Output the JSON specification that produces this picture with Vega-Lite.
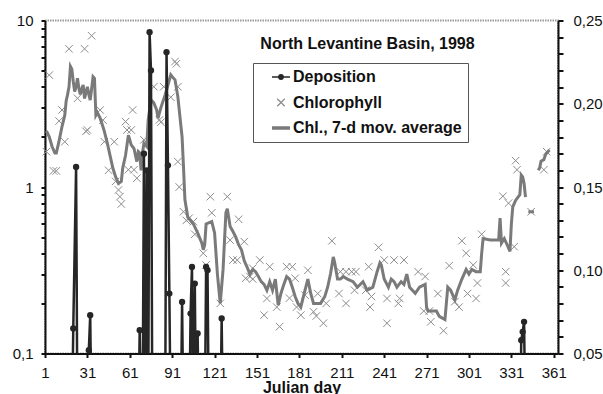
{
 "$schema": "https://vega.github.io/schema/vega-lite/v6.json",
 "width": 513, "height": 333,
 "autosize": {"type": "none"},
 "padding": {"left": 45, "top": 20.5, "right": 45, "bottom": 40.5},
 "background": "white",
 "config": {
  "font": "Liberation Sans",
  "view": {"stroke": "#9a9a9a", "strokeWidth": 2, "strokeDash": [1.5, 1]},
  "axis": {"domainColor": "#111111", "domainWidth": 2, "tickColor": "#111111", "tickWidth": 2, "labelFont": "Liberation Sans", "labelFontSize": 15, "labelColor": "#111111", "grid": false, "labelOverlap": false, "labelFlush": false},
  "axisRight": {"labelOverlap": false},
  "axisLeft": {"labelOverlap": false},
  "axisY": {"labelOverlap": false}
 },
 "title": {"text": "North Levantine Basin, 1998", "font": "Liberation Sans", "fontSize": 16, "fontWeight": "bold", "color": "#111111", "anchor": "middle", "frame": "group", "baseline": "alphabetic", "offset": -51, "dx": 66},
 "datasets": {
  "chl": [
   {"day":2,"v":1.63},{"day":4,"v":4.7},{"day":7,"v":1.25},{"day":9,"v":1.25},{"day":11,"v":2.49},{"day":13,"v":2.9},{"day":15,"v":1.87},{"day":18,"v":6.76},{"day":24,"v":3.41},{"day":29,"v":6.76},{"day":30,"v":2.16},{"day":31,"v":2.2},{"day":34,"v":8.1},{"day":40,"v":2.9},{"day":42,"v":2.52},{"day":43,"v":1.87},{"day":46,"v":1.26},{"day":50,"v":1.87},{"day":51,"v":1.08},{"day":53,"v":0.96},{"day":54,"v":0.875},{"day":55,"v":0.79},{"day":58,"v":2.47},{"day":59,"v":2.2},{"day":60,"v":1.27},{"day":62,"v":2.2},{"day":63,"v":2.9},{"day":64,"v":1.27},{"day":66,"v":1.13},{"day":71,"v":1.92},
   {"day":78,"v":4.0},{"day":82,"v":2.53},{"day":83,"v":2.45},{"day":85,"v":4.0},{"day":90,"v":3.46},{"day":93,"v":5.67},{"day":94,"v":5.5},{"day":95,"v":4.0},{"day":95,"v":1.42},{"day":96,"v":1.0},{"day":99,"v":0.71},{"day":101,"v":0.63},{"day":103,"v":0.65},{"day":106,"v":0.62},{"day":107,"v":0.52},{"day":113,"v":0.4},{"day":115,"v":0.34},{"day":118,"v":0.875},{"day":119,"v":0.7},{"day":125,"v":0.2},{"day":130,"v":0.875},{"day":132,"v":0.48},{"day":134,"v":0.364},{"day":137,"v":0.364},{"day":138,"v":0.64},{"day":142,"v":0.47},{"day":143,"v":0.283},{"day":146,"v":0.29},{"day":148,"v":0.28},{"day":148,"v":0.325},
   {"day":153,"v":0.364},{"day":156,"v":0.17},{"day":158,"v":0.214},{"day":160,"v":0.332},{"day":165,"v":0.19},{"day":167,"v":0.145},{"day":172,"v":0.332},{"day":174,"v":0.215},{"day":176,"v":0.332},{"day":178,"v":0.283},{"day":179,"v":0.19},{"day":182,"v":0.17},{"day":185,"v":0.224},{"day":187,"v":0.316},{"day":191,"v":0.178},{"day":193,"v":0.168},{"day":194,"v":0.229},{"day":198,"v":0.152},{"day":200,"v":0.2},{"day":204,"v":0.475},{"day":209,"v":0.229},{"day":210,"v":0.31},{"day":214,"v":0.2},{"day":214,"v":0.31},{"day":218,"v":0.31},{"day":220,"v":0.24},{"day":221,"v":0.31},{"day":228,"v":0.24},{"day":230,"v":0.332},{"day":231,"v":0.19},{"day":232,"v":0.22},{"day":237,"v":0.434},{"day":241,"v":0.364},{"day":243,"v":0.214},{"day":243,"v":0.152},{"day":248,"v":0.364},{"day":251,"v":0.2},{"day":252,"v":0.214},{"day":255,"v":0.364},
   {"day":265,"v":0.31},{"day":269,"v":0.18},{"day":270,"v":0.29},{"day":273,"v":0.18},{"day":274,"v":0.155},{"day":279,"v":0.229},{"day":283,"v":0.137},{"day":287,"v":0.337},{"day":291,"v":0.205},{"day":294,"v":0.19},{"day":296,"v":0.475},{"day":299,"v":0.4},{"day":300,"v":0.229},{"day":304,"v":0.34},{"day":306,"v":0.214},{"day":307,"v":0.265},{"day":310,"v":0.52},{"day":325,"v":0.88},{"day":327,"v":0.31},{"day":327,"v":0.265},{"day":329,"v":0.8},{"day":333,"v":0.438},{"day":334,"v":1.44},{"day":335,"v":1.27},{"day":345,"v":0.71},{"day":354,"v":1.27},{"day":356,"v":1.63}
  ],
  "ma": [
   {"day":2,"v":2.17,"seg":1},{"day":4,"v":2.0,"seg":1},{"day":6,"v":1.75,"seg":1},{"day":8,"v":1.6,"seg":1},{"day":9,"v":1.6,"seg":1},{"day":11,"v":1.9,"seg":1},{"day":13,"v":2.3,"seg":1},{"day":15,"v":2.7,"seg":1},{"day":16,"v":3.3,"seg":1},{"day":17,"v":3.6,"seg":1},{"day":18,"v":4.0,"seg":1},{"day":19,"v":5.3,"seg":1},{"day":20,"v":5.1,"seg":1},{"day":21,"v":4.3,"seg":1},{"day":22,"v":3.74,"seg":1},{"day":23,"v":4.0,"seg":1},{"day":24,"v":4.5,"seg":1},{"day":25,"v":3.9,"seg":1},{"day":26,"v":3.6,"seg":1},{"day":27,"v":3.9,"seg":1},{"day":28,"v":4.1,"seg":1},{"day":29,"v":3.4,"seg":1},{"day":30,"v":3.7,"seg":1},{"day":31,"v":4.0,"seg":1},{"day":32,"v":3.6,"seg":1},{"day":33,"v":3.33,"seg":1},{"day":34,"v":3.9,"seg":1},{"day":35,"v":4.6,"seg":1},{"day":36,"v":4.5,"seg":1},{"day":37,"v":2.7,"seg":1},{"day":38,"v":2.8,"seg":1},{"day":40,"v":2.59,"seg":1},{"day":42,"v":2.3,"seg":1},{"day":43,"v":2.16,"seg":1},{"day":45,"v":1.85,"seg":1},{"day":47,"v":1.55,"seg":1},{"day":49,"v":1.3,"seg":1},{"day":51,"v":1.15,"seg":1},{"day":53,"v":1.05,"seg":1},{"day":55,"v":1.08,"seg":1},{"day":56,"v":1.3,"seg":1},{"day":58,"v":1.55,"seg":1},{"day":60,"v":2.05,"seg":1},{"day":62,"v":1.79,"seg":1},{"day":64,"v":1.7,"seg":1},{"day":65,"v":1.55,"seg":1},{"day":66,"v":1.42,"seg":1},{"day":67,"v":1.63,"seg":1},{"day":68,"v":1.6,"seg":1},{"day":69,"v":1.26,"seg":1},{"day":70,"v":1.6,"seg":1},{"day":71,"v":1.83,"seg":1},{"day":73,"v":1.75,"seg":1},{"day":74,"v":2.53,"seg":1},{"day":76,"v":3.34,"seg":1},{"day":78,"v":3.2,"seg":1},{"day":80,"v":2.9,"seg":1},{"day":81,"v":2.59,"seg":1},{"day":83,"v":3.0,"seg":1},{"day":86,"v":3.57,"seg":1},{"day":88,"v":4.1,"seg":1},{"day":90,"v":4.72,"seg":1},{"day":91,"v":4.6,"seg":1},{"day":93,"v":4.4,"seg":1},{"day":95,"v":3.49,"seg":1},{"day":97,"v":2.4,"seg":1},{"day":98,"v":2.0,"seg":1},{"day":99,"v":1.32,"seg":1},{"day":100,"v":0.84,"seg":1},{"day":102,"v":0.66,"seg":1},{"day":106,"v":0.6,"seg":1},{"day":109,"v":0.53,"seg":1},{"day":112,"v":0.46,"seg":1},{"day":113,"v":0.42,"seg":1},{"day":114,"v":0.45,"seg":1},{"day":115,"v":0.6,"seg":1},{"day":119,"v":0.62,"seg":1},{"day":121,"v":0.53,"seg":1},{"day":123,"v":0.3,"seg":1},{"day":125,"v":0.2,"seg":1},{"day":127,"v":0.32,"seg":1},{"day":129,"v":0.7,"seg":1},{"day":130,"v":0.74,"seg":1},{"day":132,"v":0.58,"seg":1},{"day":134,"v":0.54,"seg":1},{"day":136,"v":0.5,"seg":1},{"day":138,"v":0.45,"seg":1},{"day":140,"v":0.42,"seg":1},{"day":142,"v":0.36,"seg":1},{"day":144,"v":0.33,"seg":1},{"day":146,"v":0.3,"seg":1},{"day":148,"v":0.32,"seg":1},{"day":150,"v":0.31,"seg":1},{"day":152,"v":0.29,"seg":1},{"day":154,"v":0.27,"seg":1},{"day":156,"v":0.26,"seg":1},{"day":158,"v":0.24,"seg":1},{"day":160,"v":0.27,"seg":1},{"day":162,"v":0.24,"seg":1},{"day":164,"v":0.28,"seg":1},{"day":166,"v":0.195,"seg":1},{"day":168,"v":0.23,"seg":1},{"day":170,"v":0.26,"seg":1},{"day":172,"v":0.29,"seg":1},{"day":174,"v":0.28,"seg":1},{"day":176,"v":0.25,"seg":1},{"day":178,"v":0.22,"seg":1},{"day":180,"v":0.2,"seg":1},{"day":182,"v":0.19,"seg":1},{"day":185,"v":0.24,"seg":1},{"day":187,"v":0.28,"seg":1},{"day":189,"v":0.23,"seg":1},{"day":191,"v":0.2,"seg":1},{"day":193,"v":0.2,"seg":1},{"day":196,"v":0.2,"seg":1},{"day":199,"v":0.22,"seg":1},{"day":201,"v":0.25,"seg":1},{"day":203,"v":0.3,"seg":1},{"day":205,"v":0.38,"seg":1},{"day":206,"v":0.35,"seg":1},{"day":208,"v":0.28,"seg":1},{"day":210,"v":0.28,"seg":1},{"day":212,"v":0.29,"seg":1},{"day":215,"v":0.28,"seg":1},{"day":219,"v":0.27,"seg":1},{"day":222,"v":0.25,"seg":1},{"day":226,"v":0.27,"seg":1},{"day":229,"v":0.24,"seg":1},{"day":233,"v":0.25,"seg":1},{"day":236,"v":0.31,"seg":1},{"day":238,"v":0.35,"seg":1},{"day":239,"v":0.34,"seg":1},{"day":241,"v":0.28,"seg":1},{"day":244,"v":0.25,"seg":1},{"day":246,"v":0.28,"seg":1},{"day":248,"v":0.27,"seg":1},{"day":250,"v":0.25,"seg":1},{"day":253,"v":0.27,"seg":1},{"day":255,"v":0.26,"seg":1},{"day":257,"v":0.3,"seg":1},{"day":259,"v":0.25,"seg":1},{"day":263,"v":0.23,"seg":1},{"day":266,"v":0.25,"seg":1},{"day":270,"v":0.26,"seg":1},{"day":271,"v":0.19,"seg":1},{"day":272,"v":0.18,"seg":1},{"day":275,"v":0.18,"seg":1},{"day":278,"v":0.18,"seg":1},{"day":280,"v":0.167,"seg":1},{"day":284,"v":0.16,"seg":1},{"day":285,"v":0.2,"seg":1},{"day":286,"v":0.25,"seg":1},{"day":288,"v":0.24,"seg":1},{"day":291,"v":0.21,"seg":1},{"day":293,"v":0.24,"seg":1},{"day":296,"v":0.28,"seg":1},{"day":299,"v":0.32,"seg":1},{"day":301,"v":0.3,"seg":1},{"day":303,"v":0.32,"seg":1},{"day":306,"v":0.31,"seg":1},{"day":309,"v":0.31,"seg":1},{"day":310,"v":0.4,"seg":1},{"day":311,"v":0.49,"seg":1},{"day":316,"v":0.48,"seg":1},{"day":322,"v":0.48,"seg":1},{"day":323,"v":0.65,"seg":1},{"day":324,"v":0.46,"seg":1},{"day":326,"v":0.49,"seg":1},{"day":328,"v":0.45,"seg":1},{"day":330,"v":0.41,"seg":1},{"day":331,"v":0.6,"seg":1},{"day":332,"v":0.76,"seg":1},{"day":334,"v":0.83,"seg":1},{"day":337,"v":0.9,"seg":1},{"day":338,"v":1.18,"seg":1},{"day":339,"v":1.15,"seg":1},{"day":340,"v":1.05,"seg":1},{"day":341,"v":0.87,"seg":1},
   {"day":343,"v":0.71,"seg":2},{"day":347,"v":0.71,"seg":2},
   {"day":350,"v":1.26,"seg":3},{"day":351,"v":1.3,"seg":3},{"day":352,"v":1.43,"seg":3},{"day":354,"v":1.46,"seg":3},{"day":355,"v":1.55,"seg":3},{"day":356,"v":1.6,"seg":3},{"day":358,"v":1.67,"seg":3}
  ],
  "dep": [
   {"day":20,"v":0},{"day":21,"v":0.065},{"day":23,"v":0.162},{"day":24,"v":0},
   {"day":31,"v":0},{"day":32,"v":0.052},{"day":33,"v":0.073},{"day":34,"v":0},
   {"day":67,"v":0},{"day":68,"v":0.064},{"day":69,"v":0},{"day":70,"v":0},{"day":71,"v":0.17},{"day":72,"v":0},{"day":73,"v":0.16},{"day":74,"v":0},{"day":75,"v":0.243},{"day":76,"v":0.22},{"day":77,"v":0},
   {"day":86,"v":0},{"day":87,"v":0.231},{"day":88,"v":0.163},{"day":89,"v":0.086},{"day":90,"v":0},
   {"day":97,"v":0},{"day":98,"v":0.081},{"day":99,"v":0},
   {"day":103,"v":0},{"day":104,"v":0.074},{"day":105,"v":0.102},{"day":106,"v":0},{"day":107,"v":0.092},{"day":108,"v":0},{"day":109,"v":0.062},{"day":110,"v":0},
   {"day":114,"v":0},{"day":115,"v":0.102},{"day":116,"v":0.1},{"day":117,"v":0},
   {"day":125,"v":0},{"day":126,"v":0.071},{"day":127,"v":0},
   {"day":337,"v":0},{"day":338,"v":0.058},{"day":339,"v":0.063},{"day":340,"v":0.069},{"day":341,"v":0}
  ]
 },
 "layer": [
  {
   "layer": [
    {
     "data": {"name": "chl"},
     "mark": {"type": "point", "filled": false, "size": 100, "strokeWidth": 1, "opacity": 1},
     "encoding": {
      "x": {"field": "day", "type": "quantitative", "scale": {"domain": [1, 364], "nice": false, "zero": false},
            "axis": {"values": [1,16,31,46,61,76,91,106,121,136,151,166,181,196,211,226,241,256,271,286,301,316,331,346,361],
                     "labelExpr": "(datum.value - 1) % 30 == 0 ? datum.label : ''",
                     "labelOverlap": false, "labelFlush": false,
                     "title": "Julian day", "titleFontSize": 16, "titleFontWeight": "bold", "titleColor": "#111111", "titleBaseline": "alphabetic", "titleY": 38.9,
                     "tickSize": 4, "labelPadding": 8,
                     "encode": {"ticks": {"y": {"value": -5}, "y2": {"value": 4}}}}},
      "y": {"field": "v", "type": "quantitative", "scale": {"type": "log", "domain": [0.1, 10], "nice": false},
            "axis": {"orient": "left", "title": null, "labelOverlap": false,
                     "values": [0.1,0.2,0.3,0.4,0.5,0.6,0.7,0.8,0.9,1,2,3,4,5,6,7,8,9,10],
                     "labelExpr": "datum.value == 0.1 ? '0,1' : datum.value == 1 ? '1' : datum.value == 10 ? '10' : ''",
                     "tickSize": 4, "labelPadding": 8}},
      "color": {"datum": "Chlorophyll", "type": "nominal",
                "scale": {"domain": ["Deposition", "Chlorophyll", "Chl., 7-d mov. average"], "range": ["#262626", "#8c8c8c", "#7a7a7a"]},
                "legend": {"orient": "none", "legendX": 208, "legendY": 42.5, "direction": "vertical", "title": null,
                           "padding": 6, "strokeColor": "#555555", "fillColor": "white",
                           "symbolSize": 100, "symbolStrokeWidth": 1.3, "symbolOffset": 14, "labelOffset": 4,
                           "labelFontSize": 16, "labelFontWeight": "bold", "labelFont": "Liberation Sans", "labelColor": "#111111", "labelLimit": 400,
                           "rowPadding": 9.5,
                           "labelExpr": "datum.label + '\u00a0\u00a0\u00a0\u00a0\u00a0'"}},
      "shape": {"datum": "Chlorophyll", "type": "nominal",
                "scale": {"domain": ["Deposition", "Chlorophyll", "Chl., 7-d mov. average"],
                          "range": ["M-1.8,0L1.8,0M-0.45,0A0.45,0.45 0 1 1 0.45,0A0.45,0.45 0 1 1 -0.45,0M-0.2,0A0.2,0.2 0 1 1 0.2,0A0.2,0.2 0 1 1 -0.2,0",
                                    "M-0.75,-0.75L0.75,0.75M-0.75,0.75L0.75,-0.75",
                                    "M-1.8,-0.22L1.8,-0.22M-1.8,0L1.8,0M-1.8,0.22L1.8,0.22"]},
                "legend": {"orient": "none", "legendX": 208, "legendY": 42.5, "direction": "vertical", "title": null,
                           "padding": 6, "strokeColor": "#555555", "fillColor": "white",
                           "symbolSize": 100, "symbolStrokeWidth": 1.3, "symbolOffset": 14, "labelOffset": 4,
                           "labelFontSize": 16, "labelFontWeight": "bold", "labelFont": "Liberation Sans", "labelColor": "#111111", "labelLimit": 400,
                           "rowPadding": 9.5,
                           "labelExpr": "datum.label + '\u00a0\u00a0\u00a0\u00a0\u00a0'"}}
     }
    },
    {
     "data": {"name": "ma"},
     "mark": {"type": "line", "strokeWidth": 3, "color": "#7a7a7a"},
     "encoding": {
      "x": {"field": "day", "type": "quantitative", "scale": {"domain": [1, 364], "nice": false, "zero": false}},
      "y": {"field": "v", "type": "quantitative", "scale": {"type": "log", "domain": [0.1, 10], "nice": false}},
      "detail": {"field": "seg", "type": "nominal"}
     }
    }
   ]
  },
  {
   "layer": [
    {
     "data": {"name": "dep"},
     "mark": {"type": "line", "strokeWidth": 2.5, "clip": true, "color": "#262626"},
     "encoding": {
      "x": {"field": "day", "type": "quantitative", "scale": {"domain": [1, 364], "nice": false, "zero": false}},
      "y": {"field": "v", "type": "quantitative", "scale": {"domain": [0.05, 0.25], "nice": false, "zero": false},
            "axis": {"orient": "right", "title": null, "labelOverlap": false,
                     "values": [0.05,0.06,0.07,0.08,0.09,0.1,0.11,0.12,0.13,0.14,0.15,0.16,0.17,0.18,0.19,0.2,0.21,0.22,0.23,0.24,0.25],
                     "labelExpr": "round(datum.value*100) % 5 == 0 ? replace(format(datum.value, '.2f'), '.', ',') : ''",
                     "tickSize": 5, "labelPadding": 10}}
     }
    },
    {
     "data": {"name": "dep"},
     "transform": [{"filter": "datum.v > 0"}],
     "mark": {"type": "point", "filled": true, "size": 40, "opacity": 1, "clip": true, "color": "#262626"},
     "encoding": {
      "x": {"field": "day", "type": "quantitative", "scale": {"domain": [1, 364], "nice": false, "zero": false}},
      "y": {"field": "v", "type": "quantitative", "scale": {"domain": [0.05, 0.25], "nice": false, "zero": false},
            "axis": {"orient": "right", "title": null, "labelOverlap": false,
                     "values": [0.05,0.06,0.07,0.08,0.09,0.1,0.11,0.12,0.13,0.14,0.15,0.16,0.17,0.18,0.19,0.2,0.21,0.22,0.23,0.24,0.25],
                     "labelExpr": "round(datum.value*100) % 5 == 0 ? replace(format(datum.value, '.2f'), '.', ',') : ''",
                     "tickSize": 5, "labelPadding": 10}}
     }
    }
   ]
  }
 ],
 "resolve": {"scale": {"y": "independent"}}
}
